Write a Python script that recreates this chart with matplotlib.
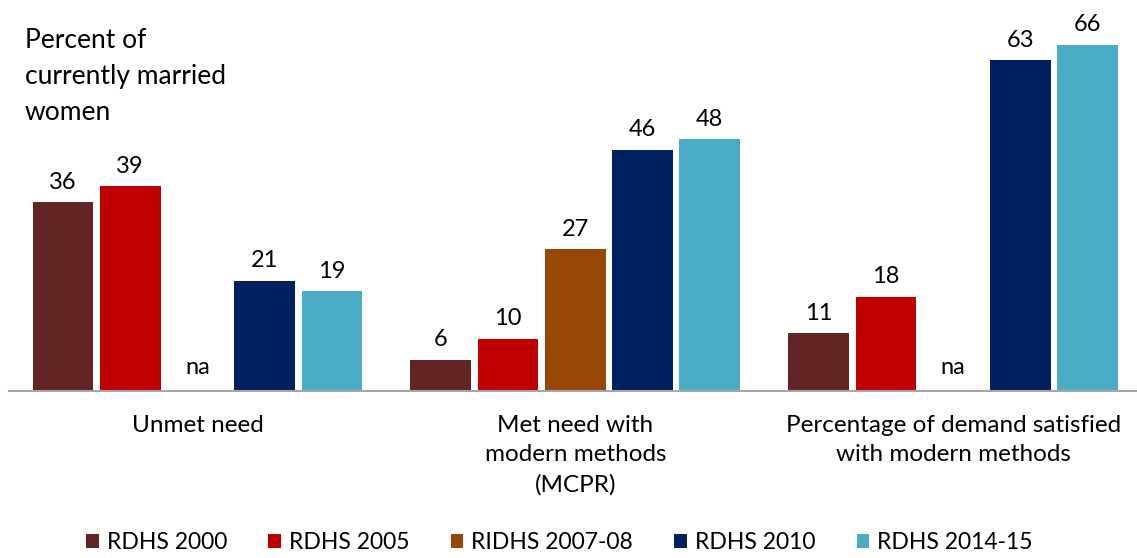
import numpy as np
import matplotlib.pyplot as plt

# ---------------------------------------------data
categories = ['Unmet need', 'Met need with\nmodern methods\n(MCPR)',
              'Percentage of demand satisfied\nwith modern methods']
surveys = ['RDHS 2000', 'RDHS 2005', 'RIDHS 2007-08', 'RDHS 2010', 'RDHS 2014-15']
values = [
    [36, 6, 11],        # RDHS 2000
    [39, 10, 18],       # RDHS 2005
    [None, 27, None],   # RIDHS 2007-08 (na for two indicators)
    [21, 46, 63],       # RDHS 2010
    [19, 48, 66],       # RDHS 2014-15
]
colors = ['#632523', '#C00000', '#974706', '#002060', '#4BACC6']

# ---------------------------------------------figure
plt.rcParams['font.family'] = ['Lato', 'DejaVu Sans']
fig = plt.figure(figsize=(11.37, 5.58), dpi=100)
ax = fig.add_axes([0.0075, 0.299, 0.997, 0.69])

x = np.arange(len(categories))
width = 0.161
step = 0.178
for i, (name, vals, c) in enumerate(zip(surveys, values, colors)):
    pos = x + (i - 2) * step
    for p, v in zip(pos, vals):
        if v is None:
            ax.text(p, 2.5, 'na', ha='center', va='bottom', fontsize=17)
            continue
        ax.bar(p, v, width=width, color=c)
        ax.text(p, v + 1.8, str(v), ha='center', va='bottom', fontsize=17)
    ax.bar(0, 0, width=0, color=c, label=name)

ax.set_xlim(-0.5, 2.5)
ax.set_ylim(0, 66 / 0.9)
for s in ['top', 'right', 'left']:
    ax.spines[s].set_visible(False)
ax.spines['bottom'].set_color('#A6A6A6')
ax.spines['bottom'].set_linewidth(1.5)
ax.set_yticks([])
ax.set_xticks(x)
ax.set_xticklabels(categories, fontsize=17.5, linespacing=1.5)
ax.tick_params(axis='x', length=0, pad=17)

fig.text(0.022, 0.95, 'Percent of\ncurrently married\nwomen', fontsize=19,
         va='top', ha='left', linespacing=1.55)

fig.legend(loc='lower center', bbox_to_anchor=(0.492, -0.028), ncol=5, frameon=False,
           fontsize=16.5, handlelength=0.55, handleheight=0.55, handletextpad=0.35,
           columnspacing=1.8)

fig.savefig('out.png', dpi=100)
